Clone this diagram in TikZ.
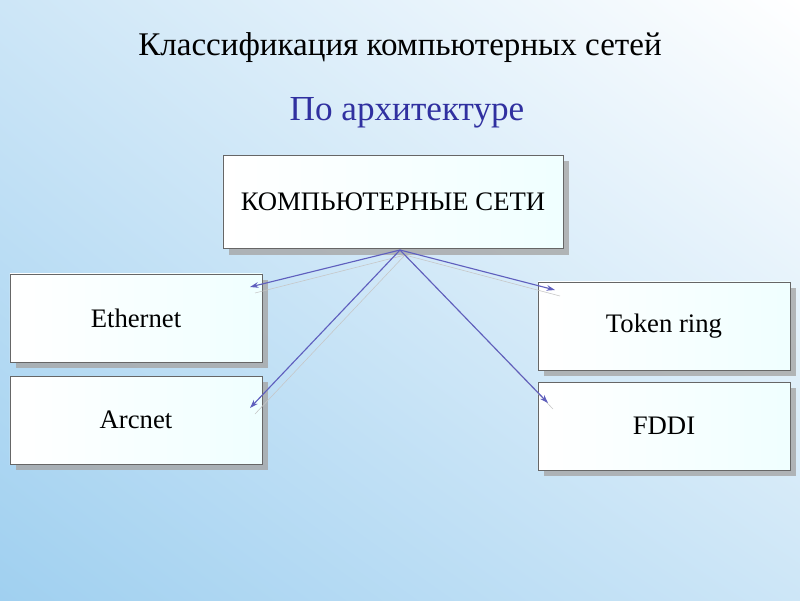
\documentclass[tikz,border=0pt]{standalone}
\usepackage{fontspec}
\setmainfont{Liberation Serif}
\usetikzlibrary{shadows,shadings,arrows.meta}
\definecolor{bgblue}{RGB}{160,208,240}
\definecolor{bglight}{RGB}{205,230,247}
\definecolor{subcol}{RGB}{48,48,160}
\definecolor{arrcol}{RGB}{95,95,190}
\begin{document}
\begin{tikzpicture}[x=0.025cm,y=-0.025cm]

        \tikzset{
            netbox/.style={draw=gray!80!black, thin, left color=white, right color=cyan!6,
                drop shadow={shadow xshift=0.15cm, shadow yshift=-0.15cm, fill=gray!70, opacity=0.8},
                font=\fontsize{19}{22}\selectfont, inner sep=0pt},
            small/.style={netbox, minimum width=6.3cm, minimum height=2.2cm},
            link/.style={-{Stealth[length=6pt,width=4pt]}, arrcol, thick},
            ghost/.style={gray!45, thin}
        }

        \shade[upper left=bglight, upper right=white, lower left=bgblue, lower right=bglight]
        (0,0) rectangle (800,600);
        \useasboundingbox (0,0) rectangle (800,600);

        \node (title) at (400,48) {\fontsize{23.5}{27}\selectfont Классификация компьютерных сетей};
        \node[subcol] (sub) at (407,113) {\fontsize{25}{29}\selectfont По архитектуре};

        \node[netbox, minimum width=8.5cm, minimum height=2.33cm] (nets) at (393,202) {КОМПЬЮТЕРНЫЕ СЕТИ};
        \node[small] (eth) at (136,318) {Ethernet};
        \node[small] (arc) at (136,420) {Arcnet};
        \node[small] (tok) at (664,326) {Token ring};
        \node[small] (fddi) at (664,426) {FDDI};

        \coordinate (src) at (400,250);
        \coordinate (srcS) at (405,255);
        \coordinate (eEnd) at (250,287);
        \coordinate (aEnd) at (250,408);
        \coordinate (tEnd) at (555,290);
        \coordinate (fEnd) at (548,403);

        % faint copies of the arrows
        \draw[ghost] (srcS) -- (255,293);
        \draw[ghost] (srcS) -- (255,414);
        \draw[ghost] (srcS) -- (560,296);
        \draw[ghost] (srcS) -- (553,409);

        \draw[link] (src) -- (eEnd);
        \draw[link] (src) -- (aEnd);
        \draw[link] (src) -- (tEnd);
        \draw[link] (src) -- (fEnd);

\end{tikzpicture}
\end{document}
